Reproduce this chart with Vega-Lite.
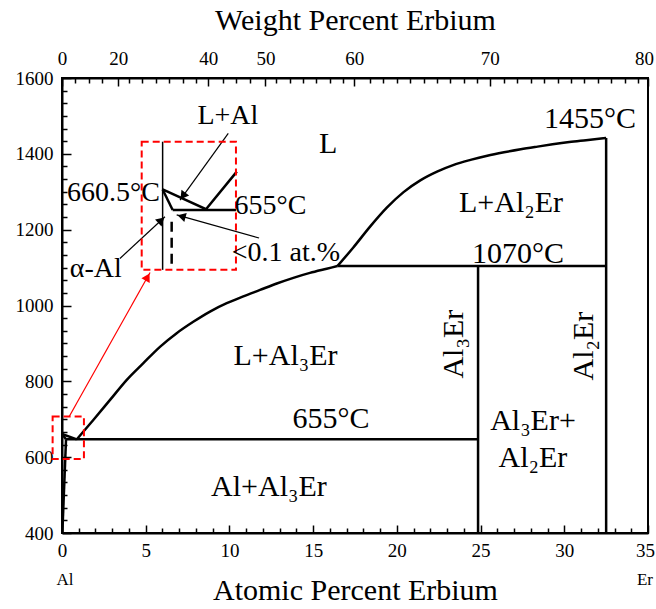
{
  "$schema": "https://vega.github.io/schema/vega-lite/v6.json",
  "width": 586,
  "height": 455,
  "autosize": "none",
  "padding": {"left": 62, "top": 78, "right": 8, "bottom": 76},
  "background": "white",
  "config": {
    "view": {"stroke": "black", "strokeWidth": 2},
    "style": {"guide-label": {"font": "Liberation Serif"}, "guide-title": {"font": "Liberation Serif"}},
    "axis": {"labelFont": "Liberation Serif", "titleFont": "Liberation Serif", "labelColor": "black", "titleColor": "black", "domainColor": "black", "tickColor": "black", "titleFontWeight": "normal", "labelFontSize": 19, "grid": false, "domainWidth": 2, "tickWidth": 1.5, "labelFlush": false, "labelOverlap": false},
    "text": {"font": "Liberation Serif", "color": "black"}
  },
  "datasets": {
    "lines": [
      {"s": "liq0", "k": "thick", "o": 0, "x": 0, "t": 661},
      {"s": "liq0", "k": "thick", "o": 1, "x": 0.88, "t": 647},
      {"s": "liq1", "k": "curve", "o": 1, "x": 0.88, "t": 647},
      {"s": "liq1", "k": "curve", "o": 2, "x": 1.87, "t": 698},
      {"s": "liq1", "k": "curve", "o": 3, "x": 2.87, "t": 751},
      {"s": "liq1", "k": "curve", "o": 4, "x": 3.87, "t": 804},
      {"s": "liq1", "k": "curve", "o": 5, "x": 4.86, "t": 848},
      {"s": "liq1", "k": "curve", "o": 6, "x": 5.85, "t": 891},
      {"s": "liq1", "k": "curve", "o": 7, "x": 6.85, "t": 927},
      {"s": "liq1", "k": "curve", "o": 8, "x": 7.84, "t": 957},
      {"s": "liq1", "k": "curve", "o": 9, "x": 8.84, "t": 984},
      {"s": "liq1", "k": "curve", "o": 10, "x": 9.84, "t": 1006},
      {"s": "liq1", "k": "curve", "o": 11, "x": 10.83, "t": 1024},
      {"s": "liq1", "k": "curve", "o": 12, "x": 11.83, "t": 1041},
      {"s": "liq1", "k": "curve", "o": 13, "x": 12.83, "t": 1058},
      {"s": "liq1", "k": "curve", "o": 14, "x": 13.82, "t": 1073},
      {"s": "liq1", "k": "curve", "o": 15, "x": 14.81, "t": 1086},
      {"s": "liq1", "k": "curve", "o": 16, "x": 15.81, "t": 1097},
      {"s": "liq1", "k": "curve", "o": 17, "x": 16.45, "t": 1104},
      {"s": "liq2", "k": "curve", "o": 0, "x": 16.45, "t": 1104},
      {"s": "liq2", "k": "curve", "o": 1, "x": 17.4, "t": 1153},
      {"s": "liq2", "k": "curve", "o": 2, "x": 18.4, "t": 1208},
      {"s": "liq2", "k": "curve", "o": 3, "x": 19.4, "t": 1258},
      {"s": "liq2", "k": "curve", "o": 4, "x": 20.4, "t": 1299},
      {"s": "liq2", "k": "curve", "o": 5, "x": 21.4, "t": 1330},
      {"s": "liq2", "k": "curve", "o": 6, "x": 22.4, "t": 1353},
      {"s": "liq2", "k": "curve", "o": 7, "x": 23.4, "t": 1371},
      {"s": "liq2", "k": "curve", "o": 8, "x": 24.4, "t": 1384},
      {"s": "liq2", "k": "curve", "o": 9, "x": 25.4, "t": 1395},
      {"s": "liq2", "k": "curve", "o": 10, "x": 26.4, "t": 1404},
      {"s": "liq2", "k": "curve", "o": 11, "x": 27.4, "t": 1412},
      {"s": "liq2", "k": "curve", "o": 12, "x": 28.4, "t": 1419},
      {"s": "liq2", "k": "curve", "o": 13, "x": 29.3, "t": 1425},
      {"s": "liq2", "k": "curve", "o": 14, "x": 30.3, "t": 1431},
      {"s": "liq2", "k": "curve", "o": 15, "x": 31.3, "t": 1436},
      {"s": "liq2", "k": "curve", "o": 16, "x": 32.5, "t": 1442},
      {"s": "solidus", "k": "thick", "o": 0, "x": 0, "t": 661},
      {"s": "solidus", "k": "thick", "o": 1, "x": 0.24, "t": 647},
      {"s": "solvus", "k": "thick", "o": 0, "x": 0.24, "t": 647},
      {"s": "solvus", "k": "thick", "o": 1, "x": 0.02, "t": 400},
      {"s": "eutectic", "k": "thick", "o": 0, "x": 0.24, "t": 647},
      {"s": "eutectic", "k": "thick", "o": 1, "x": 24.85, "t": 647},
      {"s": "peritectic", "k": "thick", "o": 0, "x": 16.45, "t": 1104},
      {"s": "peritectic", "k": "thick", "o": 1, "x": 32.5, "t": 1104},
      {"s": "Al3Er", "k": "thick", "o": 0, "x": 24.85, "t": 400},
      {"s": "Al3Er", "k": "thick", "o": 1, "x": 24.85, "t": 1104},
      {"s": "Al2Er", "k": "thick", "o": 0, "x": 32.5, "t": 400},
      {"s": "Al2Er", "k": "thick", "o": 1, "x": 32.5, "t": 1442},
      {"s": "iliq", "k": "thick", "o": 0, "x": 6.01, "t": 1306},
      {"s": "iliq", "k": "thick", "o": 1, "x": 8.6, "t": 1254},
      {"s": "iliq", "k": "thick", "o": 2, "x": 10.44, "t": 1353},
      {"s": "ieut", "k": "thick", "o": 0, "x": 6.61, "t": 1252},
      {"s": "ieut", "k": "thick", "o": 1, "x": 10.39, "t": 1252},
      {"s": "isol", "k": "thick", "o": 0, "x": 6.01, "t": 1306},
      {"s": "isol", "k": "thick", "o": 1, "x": 6.61, "t": 1252},
      {"s": "ivert", "k": "thin", "o": 0, "x": 6.01, "t": 1432},
      {"s": "ivert", "k": "thin", "o": 1, "x": 6.01, "t": 1094},
      {"s": "isolv", "k": "dash", "o": 0, "x": 6.55, "t": 1221},
      {"s": "isolv", "k": "dash", "o": 1, "x": 6.55, "t": 1094},
      {"s": "a1", "k": "arrow", "o": 0, "x": 9.93, "t": 1454},
      {"s": "a1", "k": "arrow", "o": 1, "x": 7.05, "t": 1278},
      {"s": "a2", "k": "arrow", "o": 0, "x": 3.46, "t": 1124},
      {"s": "a2", "k": "arrow", "o": 1, "x": 6.15, "t": 1234},
      {"s": "a3", "k": "arrow", "o": 0, "x": 11.77, "t": 1178},
      {"s": "a3", "k": "arrow", "o": 1, "x": 6.85, "t": 1239},
      {"s": "ared", "k": "red", "o": 0, "x": 0.44, "t": 708},
      {"s": "ared", "k": "red", "o": 1, "x": 5.26, "t": 1087}
    ],
    "boxes": [
      {"x": -0.56, "x2": 1.31, "t": 595, "t2": 707},
      {"x": 4.76, "x2": 10.39, "t": 1094, "t2": 1432}
    ],
    "heads": [
      {"c": "black", "x": 7.22, "t": 1289, "ang": 216},
      {"c": "black", "x": 5.93, "t": 1225, "ang": 47},
      {"c": "black", "x": 7.14, "t": 1235, "ang": 285},
      {"c": "red", "x": 5.11, "t": 1075, "ang": 29}
    ],
    "bigText": [
      {"label": "L", "x": 15.89, "t": 1402},
      {"label": "1455°C", "x": 31.54, "t": 1467},
      {"label": "L+Al₂Er", "x": 26.82, "t": 1247},
      {"label": "1070°C", "x": 27.24, "t": 1111},
      {"label": "L+Al₃Er", "x": 13.35, "t": 843},
      {"label": "655°C", "x": 16.07, "t": 676},
      {"label": "Al₃Er+", "x": 28.13, "t": 672},
      {"label": "Al₂Er", "x": 28.13, "t": 575},
      {"label": "Al+Al₃Er", "x": 12.36, "t": 498}
    ],
    "rotText": [
      {"label": "Al₃Er", "x": 23.95, "t": 898},
      {"label": "Al₂Er", "x": 31.7, "t": 893}
    ],
    "insetText": [
      {"label": "L+Al", "x": 9.91, "t": 1480},
      {"label": "660.5°C", "x": 3.07, "t": 1276},
      {"label": "655°C", "x": 12.45, "t": 1241},
      {"label": "α-Al", "x": 2.02, "t": 1076}
    ],
    "insetLeft": [
      {"label": "<0.1 at.%", "x": 10.14, "t": 1118}
    ],
    "smallText": [
      {"label": "Al", "x": 0.18, "t": 263},
      {"label": "Er", "x": 34.82, "t": 263}
    ]
  },
  "resolve": {"axis": {"x": "independent", "y": "independent"}},
  "layer": [
    {
      "data": {"name": "lines"},
      "transform": [{"filter": "datum.k === 'thick'"}],
      "mark": {"type": "line", "stroke": "black", "strokeWidth": 2.5},
      "encoding": {
        "x": {"field": "x", "type": "quantitative", "scale": {"domain": [0, 35], "nice": false, "zero": false},
          "axis": {"orient": "bottom", "values": [0,1,2,3,4,5,6,7,8,9,10,11,12,13,14,15,16,17,18,19,20,21,22,23,24,25,26,27,28,29,30,31,32,33,34,35], "format": "d",
            "labelFont": "Liberation Serif", "titleFont": "Liberation Serif",
            "labelExpr": "datum.value % 5 === 0 ? datum.label : ''",
            "tickSize": {"condition": {"test": "datum.value % 5 === 0", "value": -8}, "value": -5},
            "labelOffset": {"condition": {"test": "datum.value === 35", "value": -3}, "value": 0},
            "labelPadding": 16, "title": "Atomic Percent Erbium", "titleFontSize": 30, "titlePadding": 12}},
        "y": {"field": "t", "type": "quantitative", "scale": {"domain": [400, 1600], "nice": false, "zero": false},
          "axis": {"orient": "left", "values": [400,433.333,466.667,500,533.333,566.667,600,633.333,666.667,700,733.333,766.667,800,833.333,866.667,900,933.333,966.667,1000,1033.333,1066.667,1100,1133.333,1166.667,1200,1233.333,1266.667,1300,1333.333,1366.667,1400,1433.333,1466.667,1500,1533.333,1566.667,1600], "format": "d",
            "labelFont": "Liberation Serif",
            "labelExpr": "datum.value % 200 === 0 ? datum.label : ''",
            "tickSize": {"condition": {"test": "datum.value % 200 === 0", "value": -9}, "value": -5},
            "labelPadding": 18, "title": null}},
        "detail": {"field": "s"},
        "order": {"field": "o", "type": "quantitative"}
      }
    },
    {
      "data": {"name": "lines"},
      "transform": [{"filter": "datum.k === 'curve'"}],
      "mark": {"type": "line", "stroke": "black", "strokeWidth": 2.5, "interpolate": "monotone"},
      "encoding": {
        "x": {"field": "x", "type": "quantitative", "axis": null},
        "y": {"field": "t", "type": "quantitative", "axis": null},
        "detail": {"field": "s"},
        "order": {"field": "o", "type": "quantitative"}
      }
    },
    {
      "data": {"name": "lines"},
      "transform": [{"filter": "datum.k === 'thin'"}],
      "mark": {"type": "line", "stroke": "black", "strokeWidth": 1.5},
      "encoding": {
        "x": {"field": "x", "type": "quantitative",
          "axis": {"orient": "top", "values": [0,3.36,8.74,12.15,17.45,25.55,35,0.8,1.6,2.4,4.0,4.8,5.6,6.4,7.2,8.0,9.6,10.4,11.2,12.8,13.6,14.4,15.2,16.0,16.8,18.4,19.2,20.0,20.8,21.6,22.4,23.2,24.0,24.8,26.4,27.2,28.0,28.8,29.6,30.4,31.2,32.0,32.8,33.6,34.4],
            "labelFont": "Liberation Serif", "titleFont": "Liberation Serif",
            "labelExpr": "datum.value === 0 ? '0' : datum.value === 3.36 ? '20' : datum.value === 8.74 ? '40' : datum.value === 12.15 ? '50' : datum.value === 17.45 ? '60' : datum.value === 25.55 ? '70' : datum.value === 35 ? '80' : ''",
            "tickSize": {"condition": {"test": "indexof([0,3.36,8.74,12.15,17.45,25.55,35], datum.value) >= 0", "value": -8}, "value": -5},
            "labelOffset": {"condition": {"test": "datum.value === 35", "value": -4}, "value": 0},
            "labelPadding": 18, "title": "Weight Percent Erbium", "titleFontSize": 30, "titlePadding": 11}},
        "y": {"field": "t", "type": "quantitative", "axis": null},
        "detail": {"field": "s"},
        "order": {"field": "o", "type": "quantitative"}
      }
    },
    {
      "data": {"name": "lines"},
      "transform": [{"filter": "datum.k === 'dash'"}],
      "mark": {"type": "line", "stroke": "black", "strokeWidth": 2.5, "strokeDash": [10, 6]},
      "encoding": {
        "x": {"field": "x", "type": "quantitative", "axis": null},
        "y": {"field": "t", "type": "quantitative", "axis": null},
        "detail": {"field": "s"},
        "order": {"field": "o", "type": "quantitative"}
      }
    },
    {
      "data": {"name": "lines"},
      "transform": [{"filter": "datum.k === 'arrow'"}],
      "mark": {"type": "line", "stroke": "black", "strokeWidth": 1.2},
      "encoding": {
        "x": {"field": "x", "type": "quantitative", "axis": null},
        "y": {"field": "t", "type": "quantitative", "axis": null},
        "detail": {"field": "s"},
        "order": {"field": "o", "type": "quantitative"}
      }
    },
    {
      "data": {"name": "lines"},
      "transform": [{"filter": "datum.k === 'red'"}],
      "mark": {"type": "line", "stroke": "#ff0000", "strokeWidth": 1.2},
      "encoding": {
        "x": {"field": "x", "type": "quantitative", "axis": null},
        "y": {"field": "t", "type": "quantitative", "axis": null},
        "detail": {"field": "s"},
        "order": {"field": "o", "type": "quantitative"}
      }
    },
    {
      "data": {"name": "boxes"},
      "mark": {"type": "rect", "fill": null, "fillOpacity": 0, "stroke": "#ff0000", "strokeWidth": 2, "strokeDash": [7, 4]},
      "encoding": {
        "x": {"field": "x", "type": "quantitative", "axis": null},
        "x2": {"field": "x2"},
        "y": {"field": "t", "type": "quantitative", "axis": null},
        "y2": {"field": "t2"}
      }
    },
    {
      "data": {"name": "heads"},
      "transform": [{"filter": "datum.c === 'black'"}],
      "mark": {"type": "point", "shape": "triangle-up", "filled": true, "color": "black", "size": 90, "opacity": 1},
      "encoding": {
        "x": {"field": "x", "type": "quantitative", "axis": null},
        "y": {"field": "t", "type": "quantitative", "axis": null},
        "angle": {"field": "ang", "type": "quantitative", "scale": null}
      }
    },
    {
      "data": {"name": "heads"},
      "transform": [{"filter": "datum.c === 'red'"}],
      "mark": {"type": "point", "shape": "triangle-up", "filled": true, "color": "#ff0000", "size": 90, "opacity": 1},
      "encoding": {
        "x": {"field": "x", "type": "quantitative", "axis": null},
        "y": {"field": "t", "type": "quantitative", "axis": null},
        "angle": {"field": "ang", "type": "quantitative", "scale": null}
      }
    },
    {
      "data": {"name": "bigText"},
      "mark": {"type": "text", "fontSize": 30, "align": "center", "baseline": "alphabetic", "font": "Liberation Serif"},
      "encoding": {
        "x": {"field": "x", "type": "quantitative", "axis": null},
        "y": {"field": "t", "type": "quantitative", "axis": null},
        "text": {"field": "label"}
      }
    },
    {
      "data": {"name": "rotText"},
      "mark": {"type": "text", "fontSize": 30, "align": "center", "baseline": "alphabetic", "angle": 270, "font": "Liberation Serif"},
      "encoding": {
        "x": {"field": "x", "type": "quantitative", "axis": null},
        "y": {"field": "t", "type": "quantitative", "axis": null},
        "text": {"field": "label"}
      }
    },
    {
      "data": {"name": "insetText"},
      "mark": {"type": "text", "fontSize": 28, "align": "center", "baseline": "alphabetic", "font": "Liberation Serif"},
      "encoding": {
        "x": {"field": "x", "type": "quantitative", "axis": null},
        "y": {"field": "t", "type": "quantitative", "axis": null},
        "text": {"field": "label"}
      }
    },
    {
      "data": {"name": "insetLeft"},
      "mark": {"type": "text", "fontSize": 28, "align": "left", "baseline": "alphabetic", "font": "Liberation Serif"},
      "encoding": {
        "x": {"field": "x", "type": "quantitative", "axis": null},
        "y": {"field": "t", "type": "quantitative", "axis": null},
        "text": {"field": "label"}
      }
    },
    {
      "data": {"name": "smallText"},
      "mark": {"type": "text", "fontSize": 17, "align": "center", "baseline": "alphabetic", "font": "Liberation Serif"},
      "encoding": {
        "x": {"field": "x", "type": "quantitative", "axis": null},
        "y": {"field": "t", "type": "quantitative", "axis": null},
        "text": {"field": "label"}
      }
    }
  ]
}
